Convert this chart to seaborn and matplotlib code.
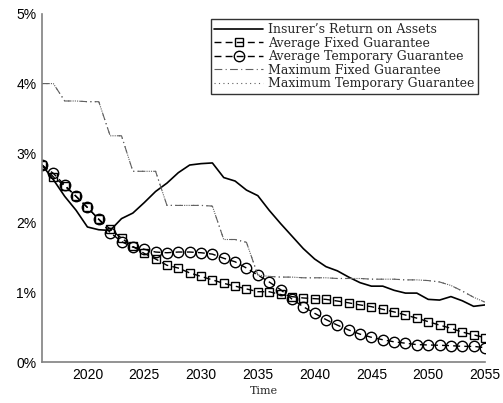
import numpy as np
import pandas as pd
import matplotlib
matplotlib.use("Agg")
import matplotlib.pyplot as plt
import seaborn as sns

years = list(range(2016, 2056))

return_on_assets = [2.83, 2.62, 2.38, 2.18, 1.94, 1.90, 1.89, 2.06, 2.14, 2.29,
                    2.45, 2.57, 2.72, 2.83, 2.85, 2.86, 2.65, 2.60, 2.47, 2.39,
                    2.18, 1.99, 1.81, 1.63, 1.48, 1.37, 1.31, 1.22, 1.14, 1.09,
                    1.09, 1.03, 0.99, 0.99, 0.90, 0.89, 0.94, 0.88, 0.80, 0.82]

avg_fixed = [2.83, 2.66, 2.53, 2.38, 2.22, 2.05, 1.91, 1.78, 1.66, 1.56,
             1.48, 1.39, 1.35, 1.28, 1.23, 1.18, 1.13, 1.09, 1.05, 1.01,
             1.01, 0.97, 0.94, 0.92, 0.91, 0.90, 0.876, 0.85, 0.82, 0.795,
             0.757, 0.72, 0.675, 0.63, 0.58, 0.53, 0.485, 0.43, 0.39, 0.35]

avg_temporary = [2.83, 2.71, 2.54, 2.38, 2.22, 2.05, 1.86, 1.73, 1.65, 1.62,
                 1.58, 1.57, 1.58, 1.58, 1.57, 1.55, 1.49, 1.44, 1.35, 1.25,
                 1.15, 1.04, 0.905, 0.795, 0.70, 0.61, 0.53, 0.46, 0.40, 0.355,
                 0.32, 0.29, 0.27, 0.25, 0.245, 0.24, 0.235, 0.225, 0.225, 0.205]

max_fixed = [4.00, 4.00, 3.75, 3.75, 3.74, 3.74, 3.25, 3.25, 2.74, 2.74,
             2.74, 2.25, 2.25, 2.25, 2.25, 2.24, 1.76, 1.76, 1.72, 1.25,
             1.23, 1.22, 1.22, 1.21, 1.21, 1.21, 1.20, 1.20, 1.20, 1.19,
             1.19, 1.19, 1.18, 1.18, 1.17, 1.15, 1.10, 1.02, 0.93, 0.86]

max_temporary = [4.00, 4.00, 3.75, 3.75, 3.74, 3.74, 3.25, 3.25, 2.74, 2.74,
                 2.74, 2.25, 2.25, 2.25, 2.25, 2.24, 1.76, 1.76, 1.72, 1.25,
                 1.23, 1.22, 1.22, 1.21, 1.21, 1.21, 1.20, 1.20, 1.20, 1.19,
                 1.19, 1.19, 1.18, 1.18, 1.17, 1.15, 1.10, 1.02, 0.93, 0.86]

labels = ["Insurer\u2019s Return on Assets", "Average Fixed Guarantee",
          "Average Temporary Guarantee", "Maximum Fixed Guarantee",
          "Maximum Temporary Guarantee"]
y_ticks = [0, 1, 2, 3, 4, 5]
x_ticks = [2020, 2025, 2030, 2035, 2040, 2045, 2050, 2055]

sns.set_style("white")
plt.rcParams['font.family'] = ['Liberation Sans', 'DejaVu Sans']

fig = plt.figure(figsize=(5.03, 4.03), dpi=100)
ax = fig.add_axes([0.0835, 0.1017, 0.8807, 0.8636])

sns.lineplot(x=years, y=return_on_assets, ax=ax, color="black", lw=1.2,
             linestyle="-", label=labels[0])
sns.lineplot(x=years, y=avg_fixed, ax=ax, color="black", lw=1.0,
             linestyle=(0, (5, 3)), marker="s", markersize=5.5,
             markerfacecolor="none", markeredgecolor="black", markeredgewidth=1.0,
             label=labels[1])
sns.lineplot(x=years, y=avg_temporary, ax=ax, color="black", lw=1.0,
             linestyle=(0, (5, 3)), marker="o", markersize=7.5,
             markerfacecolor="none", markeredgecolor="black", markeredgewidth=1.0,
             label=labels[2])
sns.lineplot(x=years, y=max_fixed, ax=ax, color="#606060", lw=0.8,
             linestyle=(0, (7, 3, 1, 3)), label=labels[3])
sns.lineplot(x=years, y=max_temporary, ax=ax, color="#606060", lw=0.8,
             linestyle=(0, (1, 3)), label=labels[4])

ax.set_xlim(2016, 2055)
ax.set_ylim(0, 5)
ax.set_xticks(x_ticks)
ax.set_yticks(y_ticks)
ax.set_yticklabels([f"{v}%" for v in y_ticks])
ax.tick_params(axis="both", direction="in", length=3, color="#808080",
               labelsize=10, labelcolor="black", pad=4)
for s in ["top", "right"]:
    ax.spines[s].set_visible(False)
for s in ["left", "bottom"]:
    ax.spines[s].set_color("#808080")
    ax.spines[s].set_linewidth(1.2)

ax.set_xlabel("Time", family=["DejaVu Serif"], fontsize=8, labelpad=3)
ax.set_ylabel("")

leg = ax.legend(loc="upper right", bbox_to_anchor=(0.985, 0.985),
                prop={"family": ["DejaVu Serif"], "size": 9.0},
                frameon=True, fancybox=False, edgecolor="black",
                labelspacing=0.05, handlelength=3.9, handletextpad=0.4,
                borderpad=0.3, borderaxespad=0.0)
leg.get_frame().set_linewidth(1.0)

fig.savefig("out.png", dpi=100)
